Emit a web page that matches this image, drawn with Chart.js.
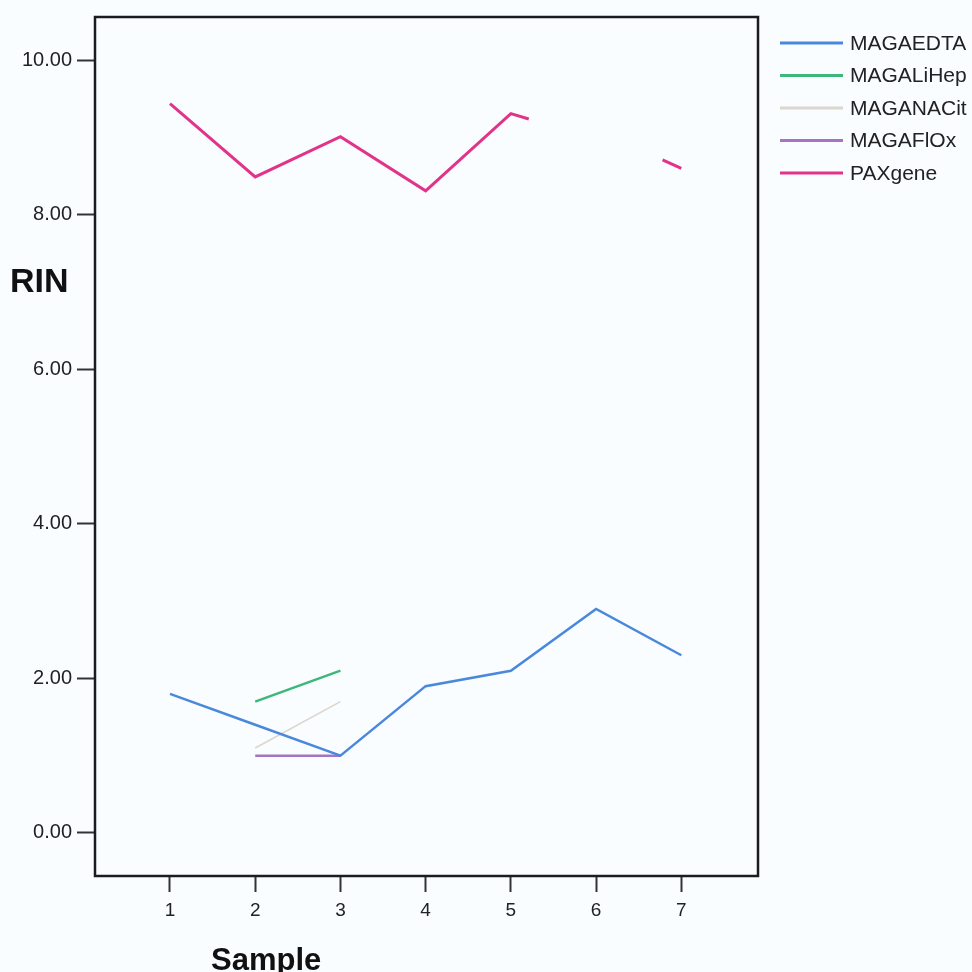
<!DOCTYPE html>
<html>
<head>
<meta charset="utf-8">
<script src="https://cdn.jsdelivr.net/npm/chart.js@4"></script>
<style>
  html, body { margin: 0; padding: 0; background: #f9fdff; }
  #wrap { width: 972px; height: 972px; }
</style>
</head>
<body>
<div id="wrap"><canvas id="rinChart" width="972" height="972"></canvas></div>
<script>
const samples = [1, 2, 3, 4, 5, 6, 7];
const rinTicks = [0, 2, 4, 6, 8, 10];

const seriesNames = ["MAGAEDTA", "MAGALiHep", "MAGANACit", "MAGAFlOx", "PAXgene"];
const seriesColors = ["#4a88dc", "#3db87a", "#dcd6cc", "#a475c4", "#e2338a"];
const seriesWidths = [2.5, 2.5, 1.6, 2.5, 3];

const magaEdta = [1.8, 1.4, 1.0, 1.9, 2.1, 2.9, 2.3];
const magaLiHep = [null, 1.7, 2.1, null, null, null, null];
const magaNaCit = [null, 1.1, 1.7, null, null, null, null];
const magaFlOx = [null, 1.0, 1.0, null, null, null, null];
// PAXgene line is broken between sample 5 and 7
const paxX = [1, 2, 3, 4, 5, 5.21, null, 6.78, 7];
const paxY = [9.44, 8.49, 9.01, 8.31, 9.31, 9.24, null, 8.71, 8.6];

const toPoints = (xs, ys) => xs.map((x, i) => ({ x: x === null ? NaN : x, y: ys[i] }));

const allSeries = [
  toPoints(samples, magaEdta),
  toPoints(samples, magaLiHep),
  toPoints(samples, magaNaCit),
  toPoints(samples, magaFlOx),
  toPoints(paxX, paxY)
];

const datasets = allSeries.map((pts, i) => ({
  label: seriesNames[i],
  data: pts,
  borderColor: seriesColors[i],
  backgroundColor: seriesColors[i],
  borderWidth: seriesWidths[i],
  pointRadius: 0,
  spanGaps: false,
  tension: 0
}));

const frameAndLabels = {
  id: "frameAndLabels",
  afterDraw(chart) {
    const ctx = chart.ctx;
    const a = chart.chartArea;
    ctx.save();
    // box round the plot
    ctx.strokeStyle = "#1c1c1c";
    ctx.lineWidth = 2.5;
    ctx.strokeRect(a.left, a.top, a.right - a.left, a.bottom - a.top);

    // axis titles
    ctx.fillStyle = "#111";
    ctx.textAlign = "left";
    ctx.textBaseline = "alphabetic";
    ctx.font = "bold 34px 'Liberation Sans', Arial, sans-serif";
    ctx.fillText("RIN", 10, 292);
    ctx.font = "bold 31px 'Liberation Sans', Arial, sans-serif";
    ctx.fillText("Sample", 211, 970);

    // legend
    ctx.font = "21px 'Liberation Sans', Arial, sans-serif";
    ctx.textBaseline = "middle";
    chart.data.datasets.forEach((ds, i) => {
      const y = 43 + i * 32.5;
      ctx.strokeStyle = ds.borderColor;
      ctx.lineWidth = 3;
      ctx.beginPath();
      ctx.moveTo(780, y);
      ctx.lineTo(843, y);
      ctx.stroke();
      ctx.fillStyle = "#222";
      ctx.fillText(ds.label, 850, y + 1);
    });
    ctx.restore();
  }
};

new Chart(document.getElementById("rinChart"), {
  type: "line",
  data: { datasets: datasets },
  options: {
    responsive: false,
    animation: false,
    layout: { padding: { top: 17, right: 214, left: 0, bottom: 0 } },
    plugins: { legend: { display: false }, tooltip: { enabled: false } },
    scales: {
      x: {
        type: "linear",
        min: 0.12,
        max: 7.9,
        afterBuildTicks: s => { s.ticks = samples.map(v => ({ value: v })); },
        afterFit: s => { s.height = 96; },
        grid: { drawOnChartArea: false, tickLength: 16, tickColor: "#333", tickWidth: 2 },
        border: { display: false },
        ticks: {
          color: "#222",
          padding: 7,
          font: { family: "'Liberation Sans', Arial", size: 19 }
        }
      },
      y: {
        type: "linear",
        min: -0.557,
        max: 10.56,
        afterBuildTicks: s => { s.ticks = rinTicks.map(v => ({ value: v })); },
        afterFit: s => { s.width = 95; },
        grid: { drawOnChartArea: false, tickLength: 18, tickColor: "#333", tickWidth: 2 },
        border: { display: false },
        ticks: {
          color: "#222",
          padding: 5,
          callback: v => Number(v).toFixed(2),
          font: { family: "'Liberation Sans', Arial", size: 20 }
        }
      }
    }
  },
  plugins: [frameAndLabels]
});
</script>
</body>
</html>
